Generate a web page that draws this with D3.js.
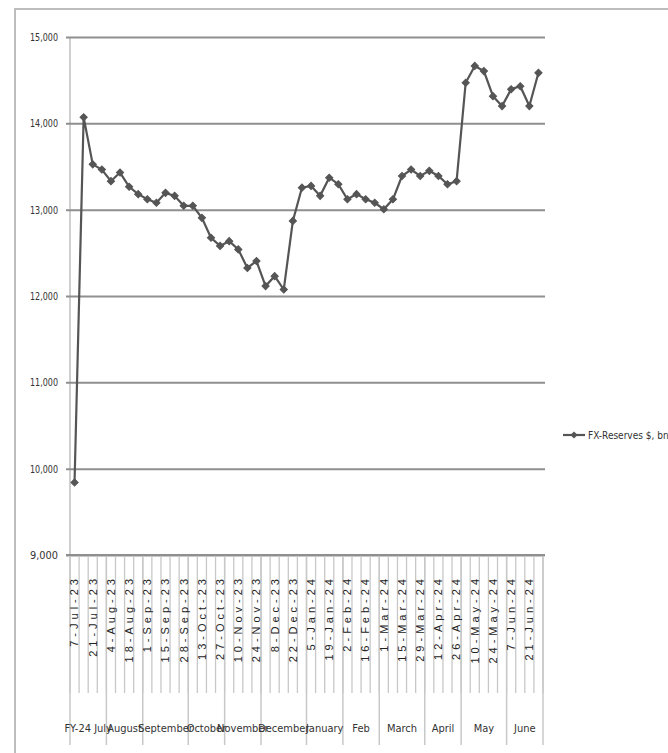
<!DOCTYPE html>
<html>
<head>
<meta charset="utf-8">
<script src="https://cdn.jsdelivr.net/npm/d3@7"></script>
<style>
  body { margin: 0; background: #fff; }
  svg { display: block; }
  .narrow { font-family: "Liberation Sans Narrow", "DejaVu Sans Condensed", sans-serif; }
</style>
</head>
<body>
<script>
// weekly categories, FY-24
var weeks = ["7-Jul-23","14-Jul-23","21-Jul-23","28-Jul-23",
  "4-Aug-23","11-Aug-23","18-Aug-23","25-Aug-23",
  "1-Sep-23","8-Sep-23","15-Sep-23","22-Sep-23","28-Sep-23",
  "6-Oct-23","13-Oct-23","20-Oct-23","27-Oct-23",
  "3-Nov-23","10-Nov-23","17-Nov-23","24-Nov-23",
  "1-Dec-23","8-Dec-23","15-Dec-23","22-Dec-23","29-Dec-23",
  "5-Jan-24","12-Jan-24","19-Jan-24","26-Jan-24",
  "2-Feb-24","9-Feb-24","16-Feb-24","23-Feb-24",
  "1-Mar-24","8-Mar-24","15-Mar-24","22-Mar-24","29-Mar-24",
  "5-Apr-24","12-Apr-24","19-Apr-24","26-Apr-24",
  "3-May-24","10-May-24","17-May-24","24-May-24","31-May-24",
  "7-Jun-24","14-Jun-24","21-Jun-24","28-Jun-24"];

var reserves = [9840, 14070, 13525, 13465, 13330, 13430, 13265, 13180,
  13120, 13080, 13195, 13160, 13045, 13045, 12905, 12675, 12580,
  12635, 12540, 12325, 12405, 12115, 12230, 12075, 12870, 13255,
  13275, 13160, 13370, 13295, 13120, 13180, 13120, 13080,
  13005, 13120, 13390, 13465, 13390, 13450, 13390, 13295, 13330,
  14470, 14665, 14605, 14315, 14200, 14395, 14430, 14200, 14585];

var months = ["FY-24 July","August","September","October","November","December",
  "January","Feb","March","April","May","June"];
var monthWeeks = [4, 4, 5, 4, 4, 5, 4, 4, 5, 4, 5, 4];

var yTicks = [9000, 10000, 11000, 12000, 13000, 14000, 15000];
var seriesName = "FX-Reserves $, bn";

var W = 668, H = 753;
var pLeft = 70, pRight = 543, pTop = 37, pBottom = 555;

var svg = d3.select("body").append("svg")
  .attr("width", W).attr("height", H);

// outer chart frame (cut at right / bottom)
svg.append("rect")
  .attr("x", 15).attr("y", 9)
  .attr("width", 700).attr("height", 800)
  .attr("fill", "none")
  .attr("stroke", "#bdbdbd")
  .attr("stroke-width", 2);

var x = d3.scaleBand().domain(weeks).range([pLeft, pRight]);
var y = d3.scaleLinear().domain([9000, 15000]).range([pBottom, pTop]);

// light vertical y axis line
svg.append("line")
  .attr("x1", pLeft).attr("x2", pLeft)
  .attr("y1", pTop).attr("y2", pBottom)
  .attr("stroke", "#cfcfcf").attr("stroke-width", 2);

// y axis with gridlines
var yAxis = svg.append("g")
  .attr("class", "narrow")
  .attr("transform", "translate(" + pLeft + ",0)")
  .call(d3.axisLeft(y)
    .tickValues(yTicks)
    .tickSize(-(pRight + 2 - pLeft))
    .tickPadding(10)
    .tickFormat(d3.format(",.0f")));
yAxis.select(".domain").remove();
yAxis.selectAll(".tick line")
  .attr("x1", -4)
  .attr("stroke", "#8f8f8f")
  .attr("stroke-width", 2);
yAxis.selectAll(".tick text")
  .attr("fill", "#333")
  .style("font-size", "11px")
  .attr("x", -12)
  .attr("textLength", 28)
  .attr("lengthAdjust", "spacingAndGlyphs");

// category boundary ticks below axis
var bounds = weeks.map(function(w) { return x(w); }).concat([pRight]);
svg.append("g").selectAll("line")
  .data(bounds)
  .enter().append("line")
  .attr("x1", function(d) { return d; })
  .attr("x2", function(d) { return d; })
  .attr("y1", pBottom)
  .attr("y2", 693)
  .attr("stroke", "#c8c8c8")
  .attr("stroke-width", 1.3);

// month separators
var starts = [0];
monthWeeks.forEach(function(n, i) { starts.push(starts[i] + n); });
svg.append("g").selectAll("line")
  .data(starts)
  .enter().append("line")
  .attr("x1", function(i) { return i < weeks.length ? x(weeks[i]) : pRight; })
  .attr("x2", function(i) { return i < weeks.length ? x(weeks[i]) : pRight; })
  .attr("y1", pBottom)
  .attr("y2", 745)
  .attr("stroke", "#c8c8c8")
  .attr("stroke-width", 1.5);

// x axis: every other week labelled
var xAxis = svg.append("g")
  .attr("transform", "translate(0," + pBottom + ")")
  .call(d3.axisBottom(x)
    .tickValues(weeks.filter(function(d, i) { return i % 2 === 0; }))
    .tickSize(0));
xAxis.select(".domain").remove();
xAxis.selectAll(".tick text")
  .attr("transform", "rotate(-90)")
  .attr("x", -20)
  .attr("y", 0)
  .attr("dy", "0.35em")
  .attr("text-anchor", "end")
  .attr("fill", "#222")
  .style("font-family", "'Liberation Sans', sans-serif")
  .style("font-size", "11px")
  .style("letter-spacing", "4px");

// month group labels
svg.append("g").attr("class", "narrow").selectAll("text")
  .data(months)
  .enter().append("text")
  .attr("x", function(m, i) {
    var a = x(weeks[starts[i]]);
    var b = starts[i + 1] < weeks.length ? x(weeks[starts[i + 1]]) : pRight;
    return (a + b) / 2;
  })
  .attr("y", 732)
  .attr("text-anchor", "middle")
  .attr("fill", "#333")
  .style("font-size", "11px")
  .text(function(m) { return m; });

// x axis line
svg.append("line")
  .attr("x1", pLeft - 4).attr("x2", pRight + 2)
  .attr("y1", pBottom).attr("y2", pBottom)
  .attr("stroke", "#8f8f8f").attr("stroke-width", 2);

// series line
var line = d3.line()
  .x(function(d, i) { return x(weeks[i]) + x.bandwidth() / 2; })
  .y(function(d) { return y(d); });

svg.append("path")
  .datum(reserves)
  .attr("d", line)
  .attr("fill", "none")
  .attr("stroke", "#555")
  .attr("stroke-width", 2.2);

var marker = d3.symbol().type(d3.symbolSquare).size(26);
svg.append("g").selectAll("path")
  .data(reserves)
  .enter().append("path")
  .attr("d", marker)
  .attr("transform", function(d, i) {
    return "translate(" + (x(weeks[i]) + x.bandwidth() / 2) + "," + y(d) + ") rotate(45)";
  })
  .attr("fill", "#555")
  .attr("stroke", "#555")
  .attr("stroke-width", 1);

// legend
var lg = svg.append("g").attr("transform", "translate(563,435)");
lg.append("line")
  .attr("x1", 0).attr("x2", 22)
  .attr("stroke", "#555").attr("stroke-width", 2.2);
lg.append("path")
  .attr("d", marker)
  .attr("transform", "translate(11,0) rotate(45)")
  .attr("fill", "#555");
lg.append("text")
  .attr("class", "narrow")
  .attr("x", 25)
  .attr("dy", "0.35em")
  .attr("fill", "#333")
  .style("font-size", "10px")
  .text(seriesName);
</script>
</body>
</html>
